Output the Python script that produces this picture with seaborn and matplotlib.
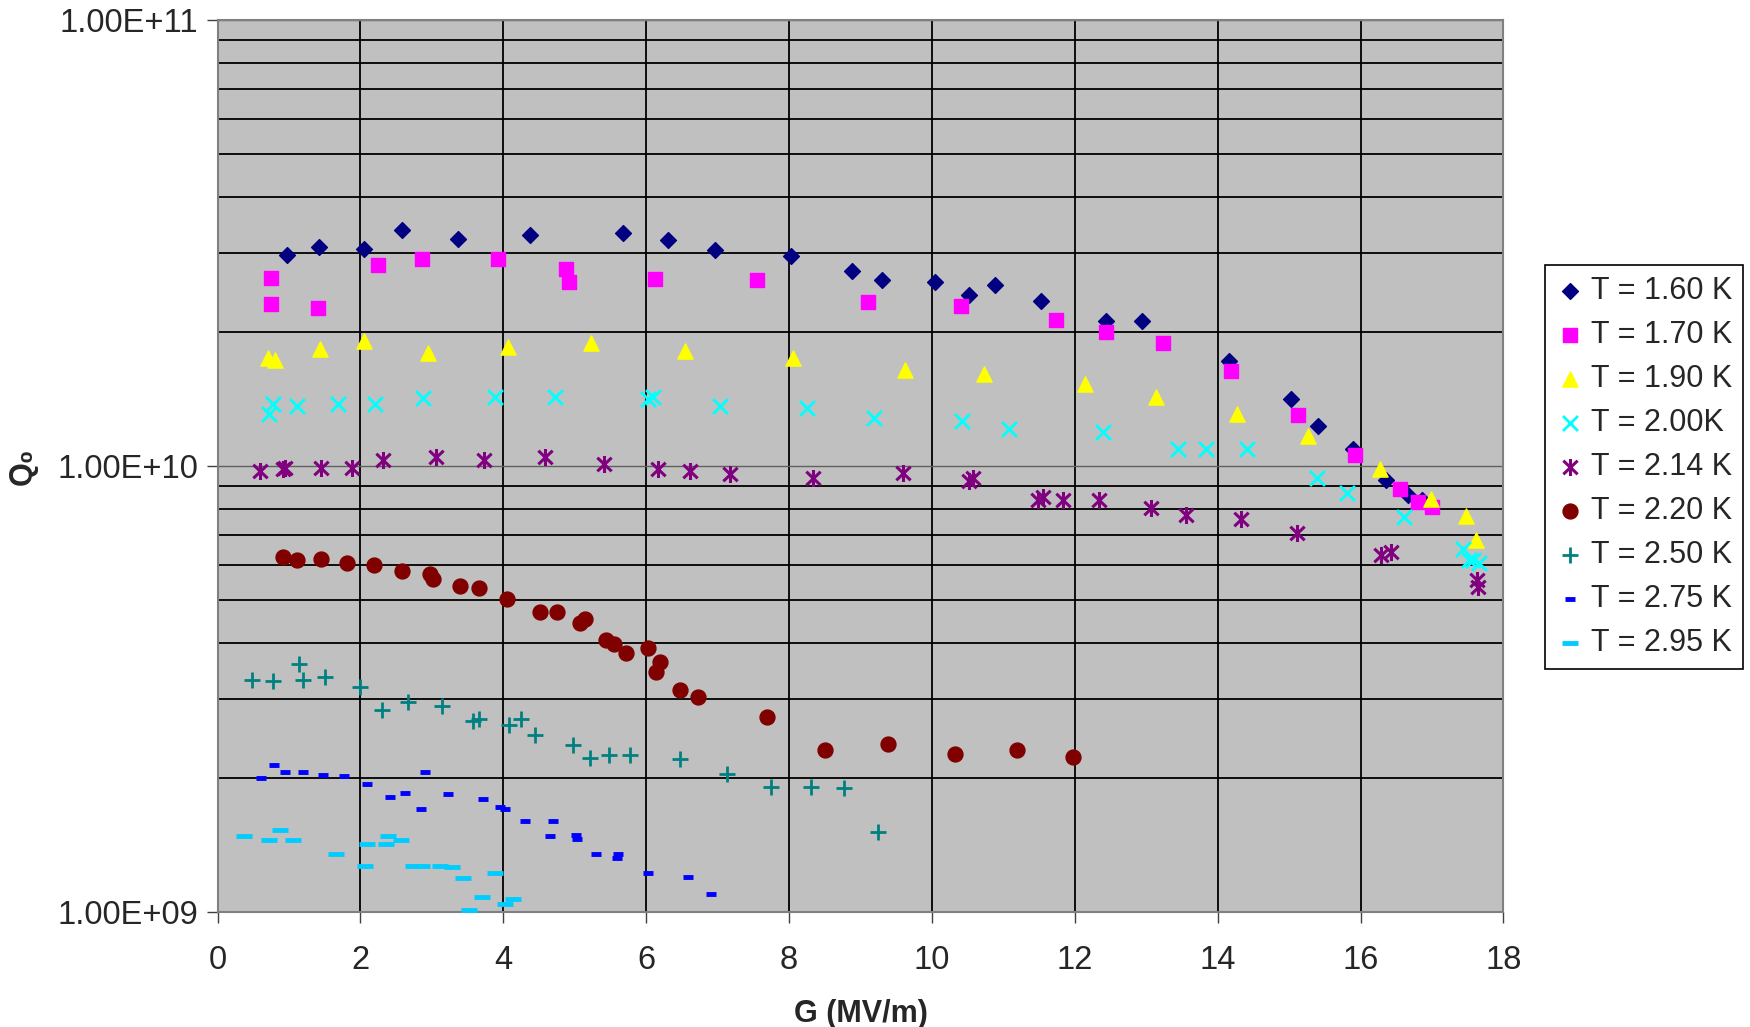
import matplotlib
matplotlib.use("Agg")
from matplotlib import pyplot as plt
from matplotlib.path import Path
from matplotlib.ticker import FixedLocator, FuncFormatter, NullFormatter
import seaborn as sns

# T = 1.60 K
g_160 = [0.97, 1.42, 2.05, 2.58, 3.36, 4.38, 5.67, 6.31, 6.97, 8.03, 8.88, 9.30, 10.05, 10.52, 10.88,
         11.53, 12.44, 12.94, 14.16, 15.02, 15.41, 15.89, 16.36, 16.66, 16.86]
q_160 = [2.98e10, 3.10e10, 3.07e10, 3.38e10, 3.23e10, 3.30e10, 3.33e10, 3.21e10, 3.05e10, 2.95e10, 2.73e10,
         2.61e10, 2.58e10, 2.42e10, 2.54e10, 2.35e10, 2.11e10, 2.11e10, 1.72e10, 1.41e10, 1.23e10, 1.09e10,
         9.3e9, 8.6e9, 8.4e9]
# T = 1.70 K
g_170 = [0.75, 0.75, 1.41, 2.25, 2.86, 3.92, 4.88, 4.92, 6.13, 7.55, 9.11, 10.41, 11.73, 12.44, 13.23,
         14.19, 15.13, 15.92, 16.55, 16.80, 17.00]
q_170 = [2.64e10, 2.31e10, 2.26e10, 2.83e10, 2.91e10, 2.91e10, 2.77e10, 2.58e10, 2.62e10, 2.61e10, 2.33e10,
         2.28e10, 2.13e10, 2.00e10, 1.89e10, 1.63e10, 1.30e10, 1.06e10, 8.9e9, 8.3e9, 8.1e9]
# T = 1.90 K
g_190 = [0.70, 0.81, 1.44, 2.05, 2.95, 4.06, 5.23, 6.55, 8.05, 9.63, 10.73, 12.14, 13.13, 14.27, 15.27,
         16.27, 16.98, 17.48, 17.61]
q_190 = [1.75e10, 1.73e10, 1.83e10, 1.91e10, 1.79e10, 1.85e10, 1.89e10, 1.81e10, 1.75e10, 1.64e10, 1.61e10,
         1.53e10, 1.43e10, 1.31e10, 1.17e10, 9.86e9, 8.44e9, 7.74e9, 6.82e9]
# T = 2.00 K
g_200 = [0.72, 0.77, 1.11, 1.69, 2.20, 2.88, 3.88, 4.72, 6.03, 6.09, 7.03, 8.25, 9.19, 10.42, 11.08, 12.39,
         13.44, 13.83, 14.41, 15.39, 15.81, 16.61, 17.44, 17.52, 17.58, 17.66]
q_200 = [1.31e10, 1.38e10, 1.36e10, 1.38e10, 1.38e10, 1.42e10, 1.43e10, 1.43e10, 1.41e10, 1.43e10, 1.36e10,
         1.35e10, 1.28e10, 1.26e10, 1.21e10, 1.19e10, 1.09e10, 1.09e10, 1.09e10, 9.4e9, 8.7e9, 7.7e9, 6.5e9,
         6.15e9, 6.15e9, 6.05e9]
# T = 2.14 K
g_214 = [0.59, 0.91, 0.95, 1.45, 1.88, 2.31, 3.06, 3.73, 4.58, 5.41, 6.17, 6.61, 7.17, 8.33, 9.59, 10.52,
         10.58, 11.48, 11.55, 11.84, 12.34, 13.06, 13.55, 14.33, 15.11, 16.28, 16.42, 17.63, 17.64]
q_214 = [9.75e9, 9.86e9, 9.91e9, 9.91e9, 9.91e9, 1.03e10, 1.05e10, 1.03e10, 1.05e10, 1.01e10, 9.86e9, 9.75e9,
         9.58e9, 9.41e9, 9.63e9, 9.25e9, 9.41e9, 8.40e9, 8.54e9, 8.40e9, 8.40e9, 8.06e9, 7.78e9, 7.60e9,
         7.06e9, 6.33e9, 6.40e9, 5.54e9, 5.35e9]
# T = 2.20 K
g_220 = [0.91, 1.11, 1.45, 1.81, 2.19, 2.58, 2.98, 3.02, 3.39, 3.66, 4.05, 4.52, 4.75, 5.08, 5.14, 5.44,
         5.55, 5.72, 6.03, 6.14, 6.20, 6.47, 6.73, 7.69, 8.50, 9.39, 10.33, 11.19, 11.98]
q_220 = [6.25e9, 6.15e9, 6.18e9, 6.07e9, 6.00e9, 5.83e9, 5.73e9, 5.57e9, 5.38e9, 5.32e9, 5.02e9, 4.71e9,
         4.71e9, 4.45e9, 4.55e9, 4.08e9, 3.99e9, 3.81e9, 3.90e9, 3.45e9, 3.64e9, 3.15e9, 3.04e9, 2.73e9,
         2.31e9, 2.38e9, 2.26e9, 2.31e9, 2.23e9]
# T = 2.50 K
g_250 = [0.48, 0.78, 1.14, 1.19, 1.50, 2.00, 2.30, 2.67, 3.14, 3.58, 3.66, 4.08, 4.25, 4.45, 4.97, 5.22,
         5.48, 5.78, 6.48, 7.13, 7.75, 8.31, 8.77, 9.25]
q_250 = [3.32e9, 3.30e9, 3.60e9, 3.32e9, 3.36e9, 3.20e9, 2.84e9, 2.95e9, 2.90e9, 2.68e9, 2.71e9, 2.62e9,
         2.71e9, 2.50e9, 2.37e9, 2.22e9, 2.25e9, 2.25e9, 2.20e9, 2.04e9, 1.91e9, 1.91e9, 1.90e9, 1.51e9]
# T = 2.75 K
g_275 = [0.61, 0.79, 0.95, 1.20, 1.47, 1.77, 2.09, 2.41, 2.63, 2.85, 2.91, 3.22, 3.71, 3.95, 4.03, 4.30,
         4.65, 4.70, 5.02, 5.03, 5.30, 5.59, 5.61, 6.02, 6.59, 6.91]
q_275 = [2.00e9, 2.14e9, 2.06e9, 2.06e9, 2.03e9, 2.02e9, 1.94e9, 1.81e9, 1.85e9, 1.70e9, 2.06e9, 1.84e9,
         1.79e9, 1.72e9, 1.70e9, 1.60e9, 1.48e9, 1.60e9, 1.49e9, 1.46e9, 1.35e9, 1.32e9, 1.35e9, 1.22e9,
         1.20e9, 1.10e9]
# T = 2.95 K
g_295 = [0.37, 0.72, 0.87, 1.05, 1.66, 2.06, 2.09, 2.36, 2.39, 2.57, 2.74, 2.86, 3.11, 3.28, 3.44, 3.52,
         3.70, 3.89, 4.03, 4.13]
q_295 = [1.48e9, 1.45e9, 1.53e9, 1.45e9, 1.35e9, 1.27e9, 1.42e9, 1.42e9, 1.48e9, 1.45e9, 1.27e9, 1.27e9,
         1.27e9, 1.26e9, 1.19e9, 1.01e9, 1.08e9, 1.22e9, 1.04e9, 1.07e9]

labels = ["T = 1.60 K", "T = 1.70 K", "T = 1.90 K", "T = 2.00K", "T = 2.14 K",
          "T = 2.20 K", "T = 2.50 K", "T = 2.75 K", "T = 2.95 K"]

# Excel-style asterisk: an X with a vertical bar through it
star = Path([(-0.42, -0.4), (0.42, 0.4), (-0.42, 0.4), (0.42, -0.4), (0, -0.5), (0, 0.5)],
            [Path.MOVETO, Path.LINETO, Path.MOVETO, Path.LINETO, Path.MOVETO, Path.LINETO])

sns.set_theme(style="ticks")
plt.rcParams['font.family'] = ['Liberation Sans', 'DejaVu Sans']

fig = plt.figure(figsize=(17.5, 10.27), dpi=100)
ax = fig.add_axes([0.1243, 0.112, 0.7348, 0.8685])
ax.set_facecolor('#C0C0C0')

# (x, y, marker, colour, size, linewidth)
series = [
    (g_160, q_160, 'D', '#000080', 65, 1.0),
    (g_170, q_170, 's', '#FF00FF', 105, 1.0),
    (g_190, q_190, '^', '#FFFF00', 120, 1.0),
    (g_200, q_200, 'x', '#00FFFF', 115, 2.0),
    (g_214, q_214, star, '#800080', 150, 2.2),
    (g_220, q_220, 'o', '#800000', 115, 1.0),
    (g_250, q_250, '+', '#008080', 125, 2.0),
    (g_275, q_275, '_', '#0000FF', 45, 3.5),
    (g_295, q_295, '_', '#00CCFF', 120, 3.5),
]
for (gx, qy, mk, col, size, lw), lab in zip(series, labels):
    sns.scatterplot(x=gx, y=qy, marker=mk, color=col, edgecolor=col, s=size,
                    linewidth=lw, label=lab, ax=ax, zorder=3, clip_on=False)

ax.set_yscale('log')
ax.set_xlim(0, 18)
ax.set_ylim(1e9, 1e11)
ax.set_xticks(range(0, 19, 2))
ax.yaxis.set_major_locator(FixedLocator([1e9, 1e10, 1e11]))
ax.yaxis.set_minor_locator(FixedLocator([m * d for d in (1e9, 1e10) for m in range(2, 10)]))
ax.yaxis.set_major_formatter(FuncFormatter(lambda v, _: f"{v:.2E}"))
ax.yaxis.set_minor_formatter(NullFormatter())
ax.tick_params(axis='both', which='major', labelsize=23.5, length=8, width=1, color='#404040',
               direction='out', pad=6)
ax.tick_params(axis='x', which='major', pad=16)
ax.tick_params(axis='y', which='minor', length=0)

ax.grid(which='minor', axis='y', color='black', linewidth=1.3)
ax.grid(which='major', axis='y', color='#606060', linewidth=1.0)
ax.grid(which='major', axis='x', color='black', linewidth=1.3)
ax.set_axisbelow(True)
for sp in ax.spines.values():
    sp.set_color('#808080')
    sp.set_linewidth(1.5)

ax.set_xlabel('G (MV/m)', fontsize=22, fontweight='bold', labelpad=16)
ax.set_ylabel('Q₀', fontsize=22, fontweight='bold', labelpad=14)

leg = ax.legend(loc='center', bbox_to_anchor=(0.884, 0.3476, 0.111, 0.395), bbox_transform=fig.transFigure,
                fontsize=22, frameon=True, fancybox=False, edgecolor='black', framealpha=1,
                handlelength=0.9, handletextpad=0.25, labelspacing=0.46, borderpad=0.35,
                borderaxespad=0)
leg.get_frame().set_linewidth(1.2)

fig.savefig('out.png', dpi=100)
